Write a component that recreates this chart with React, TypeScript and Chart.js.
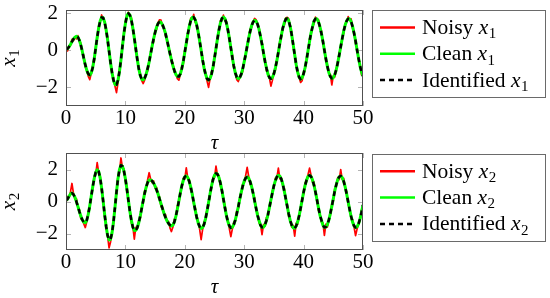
import React, { useEffect, useRef } from "react";
import { Chart, registerables } from "chart.js";
Chart.register(...registerables);

const FONT = '"Liberation Serif", "Times New Roman", serif';

const TAU_STEP = 0.25;
const X_TICKS = [0, 10, 20, 30, 40, 50];
const Y_TICKS = [-2, 0, 2];
const LEGEND_NAMES = ["Noisy", "Clean", "Identified"];

const cleanX1 = [
  0.05, 0.08, 0.18, 0.31, 0.46, 0.60, 0.70, 0.75, 0.71, 0.54,
  0.27, -0.07, -0.45, -0.80, -1.10, -1.29, -1.35, -1.24, -0.94, -0.47,
  0.10, 0.70, 1.20, 1.58, 1.78, 1.76, 1.53, 1.12, 0.58, -0.05,
  -0.68, -1.22, -1.64, -1.86, -1.88, -1.64, -1.16, -0.53, 0.20, 0.91,
  1.45, 1.87, 2.00, 1.91, 1.64, 1.20, 0.66, 0.08, -0.50, -1.00,
  -1.37, -1.58, -1.61, -1.51, -1.30, -0.99, -0.64, -0.20, 0.21, 0.62,
  0.96, 1.25, 1.45, 1.53, 1.50, 1.38, 1.17, 0.91, 0.55, 0.19,
  -0.18, -0.52, -0.85, -1.11, -1.32, -1.42, -1.43, -1.29, -1.00, -0.60,
  -0.11, 0.38, 0.86, 1.28, 1.61, 1.77, 1.79, 1.65, 1.37, 0.98,
  0.50, -0.01, -0.53, -0.97, -1.31, -1.55, -1.62, -1.54, -1.30, -0.92,
  -0.44, 0.09, 0.62, 1.10, 1.48, 1.72, 1.80, 1.72, 1.48, 1.11,
  0.64, 0.13, -0.39, -0.86, -1.23, -1.47, -1.55, -1.49, -1.31, -1.02,
  -0.63, -0.23, 0.21, 0.64, 1.02, 1.33, 1.53, 1.62, 1.58, 1.41,
  1.13, 0.73, 0.32, -0.15, -0.60, -0.98, -1.30, -1.49, -1.55, -1.48,
  -1.28, -0.96, -0.57, -0.11, 0.36, 0.80, 1.20, 1.49, 1.68, 1.72,
  1.59, 1.28, 0.83, 0.30, -0.25, -0.78, -1.19, -1.47, -1.57, -1.50,
  -1.28, -0.94, -0.52, -0.02, 0.47, 0.93, 1.26, 1.57, 1.71, 1.69,
  1.55, 1.27, 0.91, 0.48, 0.00, -0.46, -0.88, -1.21, -1.43, -1.53,
  -1.49, -1.33, -1.06, -0.69, -0.26, 0.19, 0.62, 1.04, 1.36, 1.59,
  1.71, 1.69, 1.55, 1.28, 0.92, 0.50, 0.01, -0.44, -0.86, -1.18,
  -1.40,
];

const noisyX1 = [
  0.15, -0.04, 0.24, 0.27, 0.59, 0.51, 0.72, 0.61, 0.79, 0.51,
  0.38, -0.14, -0.30, -0.90, -1.06, -1.42, -1.60, -1.26, -0.82, -0.63,
  0.20, 0.58, 1.26, 1.54, 1.91, 1.67, 1.55, 0.98, 0.66, -0.08,
  -0.57, -1.29, -1.49, -1.96, -2.30, -1.77, -1.07, -0.55, 0.32, 0.75,
  1.55, 1.75, 2.06, 1.87, 1.77, 1.11, 0.68, -0.06, -0.42, -1.03,
  -1.26, -1.65, -1.81, -1.61, -1.26, -1.12, -0.55, -0.22, 0.33, 0.46,
  1.06, 1.13, 1.51, 1.65, 1.63, 1.29, 1.19, 0.77, 0.63, 0.16,
  -0.07, -0.59, -0.70, -1.21, -1.28, -1.55, -1.63, -1.31, -0.88, -0.76,
  -0.01, 0.26, 0.92, 1.24, 1.74, 1.68, 1.94, 1.51, 1.45, 0.95,
  0.61, -0.08, -0.38, -1.07, -1.27, -1.68, -2.02, -1.56, -1.18, -1.08,
  -0.34, -0.03, 0.68, 1.06, 1.61, 1.63, 1.90, 1.58, 1.56, 1.08,
  0.75, 0.06, -0.24, -0.96, -1.19, -1.60, -1.70, -1.51, -1.19, -1.18,
  -0.53, -0.35, 0.27, 0.60, 1.15, 1.24, 1.55, 1.72, 1.66, 1.38,
  1.24, 0.66, 0.47, -0.25, -0.56, -1.11, -1.21, -1.51, -1.95, -1.64,
  -1.18, -1.08, -0.51, -0.15, 0.49, 0.71, 1.22, 1.35, 1.76, 1.78,
  1.70, 1.21, 0.98, 0.20, -0.21, -0.91, -1.10, -1.49, -1.75, -1.66,
  -1.18, -1.06, -0.46, -0.06, 0.60, 0.84, 1.28, 1.43, 1.79, 1.66,
  1.66, 1.20, 1.06, 0.38, 0.04, -0.59, -0.79, -1.23, -1.31, -1.89,
  -1.39, -1.45, -1.00, -0.73, -0.13, 0.10, 0.64, 0.90, 1.44, 1.56,
  1.82, 1.62, 1.70, 1.18, 0.96, 0.37, 0.10, -0.46, -0.74, -1.34,
  -1.30,
];

const identifiedX1 = cleanX1;

const cleanX2 = [
  0.10, 0.17, 0.34, 0.50, 0.55, 0.47, 0.29, 0.02, -0.28, -0.60,
  -0.89, -1.12, -1.26, -1.30, -1.14, -0.77, -0.24, 0.35, 0.94, 1.46,
  1.84, 2.00, 1.90, 1.50, 0.86, 0.06, -0.77, -1.52, -2.09, -2.37,
  -2.33, -1.93, -1.23, -0.33, 0.61, 1.45, 2.02, 2.29, 2.23, 1.93,
  1.44, 0.80, 0.11, -0.57, -1.14, -1.57, -1.78, -1.77, -1.61, -1.30,
  -0.88, -0.40, 0.08, 0.55, 0.93, 1.22, 1.37, 1.37, 1.30, 1.17,
  0.98, 0.75, 0.49, 0.18, -0.12, -0.42, -0.71, -0.97, -1.18, -1.34,
  -1.45, -1.50, -1.45, -1.24, -0.89, -0.44, 0.06, 0.56, 1.00, 1.35,
  1.57, 1.62, 1.52, 1.28, 0.92, 0.48, -0.02, -0.51, -0.95, -1.31,
  -1.55, -1.65, -1.60, -1.39, -1.03, -0.57, -0.04, 0.49, 0.99, 1.39,
  1.66, 1.78, 1.73, 1.52, 1.17, 0.71, 0.18, -0.35, -0.84, -1.23,
  -1.50, -1.62, -1.58, -1.41, -1.13, -0.73, -0.32, 0.16, 0.60, 0.98,
  1.30, 1.49, 1.55, 1.48, 1.27, 0.95, 0.54, 0.07, -0.40, -0.84,
  -1.16, -1.46, -1.59, -1.57, -1.43, -1.15, -0.79, -0.34, 0.13, 0.58,
  1.01, 1.33, 1.56, 1.66, 1.61, 1.42, 1.10, 0.67, 0.20, -0.29,
  -0.76, -1.17, -1.45, -1.62, -1.64, -1.50, -1.24, -0.86, -0.39, 0.10,
  0.60, 1.03, 1.36, 1.59, 1.66, 1.59, 1.37, 1.04, 0.62, 0.13,
  -0.36, -0.82, -1.14, -1.45, -1.59, -1.57, -1.42, -1.13, -0.73, -0.28,
  0.20, 0.69, 1.07, 1.39, 1.57, 1.62, 1.52, 1.28, 0.93, 0.49,
  0.01, -0.47, -0.91, -1.26, -1.50, -1.60, -1.55, -1.37, -1.06, -0.64,
  -0.19,
];

const noisyX2 = [
  -0.04, 0.33, 0.28, 0.62, 1.15, 0.55, 0.18, 0.21, -0.31, -0.47,
  -1.06, -1.07, -1.38, -1.60, -1.22, -0.59, -0.39, 0.39, 0.84, 1.60,
  1.70, 2.45, 1.84, 1.62, 0.68, 0.14, -0.88, -1.33, -2.12, -2.87,
  -2.50, -1.88, -1.35, -0.18, 0.53, 1.63, 1.87, 2.74, 2.13, 2.07,
  1.30, 0.96, 0.05, -0.45, -1.32, -1.49, -2.33, -1.58, -1.64, -1.17,
  -1.05, -0.35, -0.04, 0.70, 0.85, 1.40, 1.82, 1.41, 1.20, 1.31,
  0.84, 0.91, 0.43, 0.30, -0.30, -0.34, -0.82, -0.78, -1.21, -1.21,
  -1.62, -1.85, -1.57, -1.09, -0.97, -0.26, -0.09, 0.60, 0.90, 1.49,
  1.43, 2.12, 1.46, 1.40, 0.74, 0.56, -0.13, -0.32, -0.98, -1.18,
  -1.72, -2.35, -1.72, -1.24, -1.11, -0.39, -0.19, 0.53, 0.89, 1.53,
  1.52, 2.23, 1.67, 1.64, 0.99, 0.79, 0.07, -0.16, -0.87, -1.10,
  -1.67, -2.17, -1.70, -1.26, -1.21, -0.55, -0.47, 0.20, 0.50, 1.12,
  1.16, 1.65, 2.15, 1.60, 1.09, 1.03, 0.43, 0.26, -0.43, -0.71,
  -1.33, -1.41, -2.04, -1.42, -1.51, -0.97, -0.94, -0.30, 0.03, 0.72,
  0.87, 1.49, 1.50, 2.11, 1.43, 1.50, 0.99, 0.86, 0.17, -0.16,
  -0.93, -1.12, -1.57, -1.47, -2.14, -1.32, -1.39, -0.82, -0.49, 0.24,
  0.46, 1.19, 1.30, 1.71, 2.11, 1.67, 1.26, 1.23, 0.59, 0.26,
  -0.53, -0.77, -1.26, -1.30, -2.09, -1.39, -1.57, -1.09, -0.83, -0.14,
  0.06, 0.85, 1.01, 1.51, 1.39, 2.02, 1.41, 1.47, 0.90, 0.62,
  -0.16, -0.42, -1.03, -1.11, -1.58, -2.10, -1.70, -1.33, -1.16, -0.50,
  -0.33,
];

const identifiedX2 = cleanX2;

const tau = cleanX1.map((_, i) => i * TAU_STEP);

// ---- layout ----
const W = 550;
const H = 298;

type Panel = {
  sub: string;
  noisy: number[];
  clean: number[];
  identified: number[];
  yMin: number;
  yMax: number;
  areaTop: number;
  areaBottom: number;
  legendTop: number;
  legendRows: number[];
};

const PANELS: Panel[] = [
  {
    sub: "1", noisy: noisyX1, clean: cleanX1, identified: identifiedX1,
    yMin: -3.03, yMax: 2.18, areaTop: 10, areaBottom: 106,
    legendTop: 10, legendRows: [27.5, 53.8, 80.1],
  },
  {
    sub: "2", noisy: noisyX2, clean: cleanX2, identified: identifiedX2,
    yMin: -3.0, yMax: 3.05, areaTop: 153, areaBottom: 250,
    legendTop: 154, legendRows: [171.3, 197.6, 223.9],
  },
];

const AREA_LEFT = 66;
const AREA_RIGHT = 363;

function drawVar(ctx: CanvasRenderingContext2D, x: number, y: number, sub: string, size: number) {
  ctx.font = `italic ${size}px ${FONT}`;
  ctx.fillText("x", x, y);
  const w = ctx.measureText("x").width;
  ctx.font = `${Math.round(size * 0.7)}px ${FONT}`;
  ctx.fillText(sub, x + w + 0.5, y + size * 0.2);
  return w + 0.5 + ctx.measureText(sub).width;
}

function varWidth(ctx: CanvasRenderingContext2D, sub: string, size: number) {
  ctx.font = `italic ${size}px ${FONT}`;
  const w = ctx.measureText("x").width;
  ctx.font = `${Math.round(size * 0.7)}px ${FONT}`;
  return w + 0.5 + ctx.measureText(sub).width;
}

const decorPlugin = {
  id: "decor",
  beforeDatasetsDraw(chart: any) {
    const { ctx, chartArea: a } = chart;
    const xs = chart.scales.x;
    const ys = chart.scales.y;
    ctx.save();
    ctx.strokeStyle = "#b4b4b4";
    ctx.lineWidth = 1;
    ctx.beginPath();
    X_TICKS.forEach((v) => {
      const px = Math.round(xs.getPixelForValue(v)) + 0.5;
      ctx.moveTo(px, a.bottom);
      ctx.lineTo(px, a.bottom - 5);
      ctx.moveTo(px, a.top);
      ctx.lineTo(px, a.top + 5);
    });
    Y_TICKS.forEach((v) => {
      const py = Math.round(ys.getPixelForValue(v)) + 0.5;
      ctx.moveTo(a.left, py);
      ctx.lineTo(a.left + 5, py);
      ctx.moveTo(a.right, py);
      ctx.lineTo(a.right - 5, py);
    });
    ctx.stroke();
    ctx.restore();
  },
  afterDraw(chart: any, _args: any, opts: any) {
    const { ctx, chartArea: a } = chart;
    const p: Panel = opts.panel;
    ctx.save();
    // axis box
    ctx.strokeStyle = "#505050";
    ctx.lineWidth = 1;
    ctx.setLineDash([]);
    ctx.strokeRect(Math.round(a.left) + 0.5, Math.round(a.top) + 0.5,
      Math.round(a.right - a.left) - 1, Math.round(a.bottom - a.top) - 1);

    // x title
    ctx.fillStyle = "#000";
    ctx.textBaseline = "alphabetic";
    ctx.textAlign = "center";
    ctx.font = `italic 21px ${FONT}`;
    ctx.fillText("\u03C4", (a.left + a.right) / 2, a.bottom + 43);

    // y title (rotated)
    ctx.textAlign = "left";
    const tw = varWidth(ctx, p.sub, 21);
    ctx.save();
    ctx.translate(15, (a.top + a.bottom) / 2);
    ctx.rotate(-Math.PI / 2);
    drawVar(ctx, -tw / 2, 0, p.sub, 21);
    ctx.restore();

    // legend
    const lx = 372.5, lw = 173, lh = 87;
    ctx.strokeStyle = "#6a6a6a";
    ctx.lineWidth = 1;
    ctx.strokeRect(lx, p.legendTop + 0.5, lw, lh);
    const byName: any[] = [];
    chart.data.datasets.forEach((ds: any) => { byName[ds.legendIndex] = ds; });
    byName.forEach((ds: any, i: number) => {
      const y = p.legendRows[i];
      ctx.save();
      ctx.strokeStyle = ds.borderColor;
      ctx.lineWidth = ds.legendWidth;
      ctx.setLineDash(ds.borderDash || []);
      ctx.beginPath();
      ctx.moveTo(380, y);
      ctx.lineTo(415, y);
      ctx.stroke();
      ctx.restore();
      ctx.fillStyle = "#000";
      ctx.font = `21.5px ${FONT}`;
      const name = LEGEND_NAMES[i] + " ";
      ctx.fillText(name, 422, y + 6.5);
      const w = ctx.measureText(name).width;
      drawVar(ctx, 422 + w, y + 6.5, p.sub, 21.5);
    });
    ctx.restore();
  },
};

function makeConfig(p: Panel): any {
  const pts = (arr: number[]) => arr.map((v, i) => ({ x: tau[i], y: v }));
  const tickFont = { family: FONT, size: 21, lineHeight: 1.2 };
  return {
    type: "line",
    data: {
      datasets: [
        {
          label: `Identified x${p.sub}`, legendIndex: 2, data: pts(p.identified),
          borderColor: "#000000", borderWidth: 2.5, legendWidth: 2.5, borderDash: [5, 4], order: 1,
        },
        {
          label: `Clean x${p.sub}`, legendIndex: 1, data: pts(p.clean),
          borderColor: "#00ff00", borderWidth: 3, legendWidth: 2.5, order: 2,
        },
        {
          label: `Noisy x${p.sub}`, legendIndex: 0, data: pts(p.noisy),
          borderColor: "#ff0000", borderWidth: 1.7, legendWidth: 2.5, order: 3,
        },
      ],
    },
    options: {
      animation: false,
      responsive: false,
      devicePixelRatio: 1,
      layout: { padding: { left: 0, right: W - AREA_RIGHT, top: p.areaTop, bottom: 0 } },
      elements: { point: { radius: 0 }, line: { tension: 0, borderJoinStyle: "round" } },
      plugins: {
        legend: { display: false },
        tooltip: { enabled: false },
        decor: { panel: p },
      },
      scales: {
        x: {
          type: "linear", min: 0, max: 50,
          grid: { display: false, drawTicks: false },
          border: { display: false },
          ticks: { stepSize: 10, font: tickFont, color: "#000", padding: 0, maxRotation: 0, autoSkip: false },
          afterFit: (s: any) => { s.height = H - p.areaBottom; s.paddingLeft = 0; s.paddingRight = 0; },
        },
        y: {
          type: "linear", min: p.yMin, max: p.yMax,
          grid: { display: false, drawTicks: false },
          border: { display: false },
          afterBuildTicks: (s: any) => { s.ticks = Y_TICKS.map((v) => ({ value: v })); },
          ticks: {
            font: tickFont, color: "#000", padding: 8,
            callback: (v: number) => (v < 0 ? "\u2212" + Math.abs(v) : String(v)),
          },
          afterFit: (s: any) => { s.width = AREA_LEFT; s.paddingTop = 0; s.paddingBottom = 0; },
        },
      },
    },
    plugins: [decorPlugin],
  };
}

export default function App() {
  const ref1 = useRef<HTMLCanvasElement>(null);
  const ref2 = useRef<HTMLCanvasElement>(null);
  useEffect(() => {
    const c1 = new Chart(ref1.current as HTMLCanvasElement, makeConfig(PANELS[0]));
    const c2 = new Chart(ref2.current as HTMLCanvasElement, makeConfig(PANELS[1]));
    return () => { c1.destroy(); c2.destroy(); };
  }, []);
  const cs: React.CSSProperties = { position: "absolute", left: 0, top: 0, display: "block" };
  return (
    <div style={{ position: "absolute", left: 0, top: 0, width: W, height: H, background: "#fff" }}>
      <canvas ref={ref1} width={W} height={H} style={cs} />
      <canvas ref={ref2} width={W} height={H} style={cs} />
    </div>
  );
}
